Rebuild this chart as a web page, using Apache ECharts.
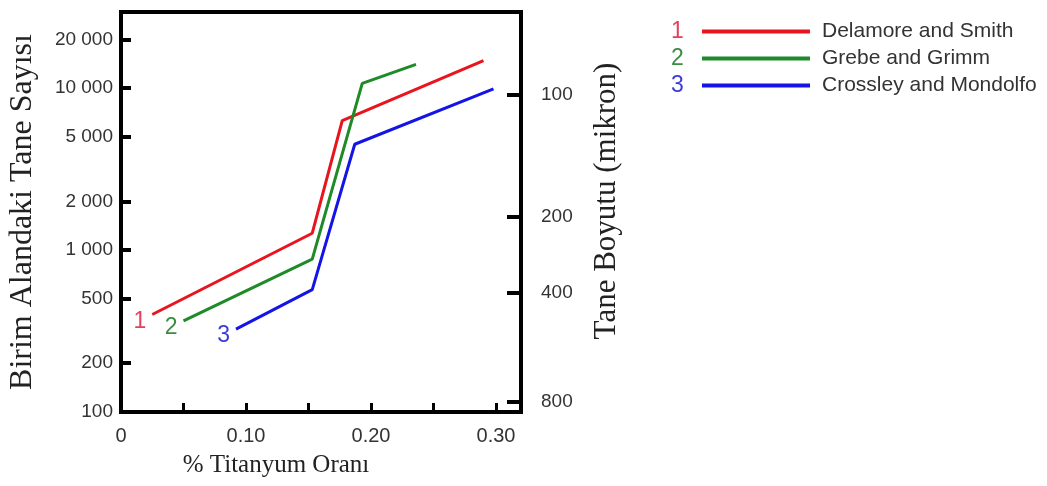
<!DOCTYPE html>
<html>
<head>
<meta charset="utf-8">
<script src="https://cdn.jsdelivr.net/npm/echarts@6/dist/echarts.min.js"></script>
<style>
html, body { margin: 0; padding: 0; background: #fff; }
#chart { width: 1047px; height: 486px; }
</style>
</head>
<body>
<div id="chart"></div>
<script>
// values: % Ti against particle count per unit area
const seriesNames = ['Delamore and Smith', 'Grebe and Grimm', 'Crossley and Mondolfo']
const seriesNumbers = ['1', '2', '3']
const seriesColors = ['#e8141e', '#1e8a28', '#1414e6']
const numberColors = ['#e4405c', '#3c8c40', '#3c3cd2']

const delamoreTi = [0.025, 0.153, 0.177, 0.290]
const delamoreCount = [400, 1270, 6300, 14800]
const grebeTi = [0.050, 0.153, 0.193, 0.236]
const grebeCount = [365, 880, 10700, 14000]
const crossleyTi = [0.092, 0.153, 0.187, 0.298]
const crossleyCount = [325, 570, 4500, 9900]

const xLabelValues = [0, 0.1, 0.2, 0.3]
const xTickValues = [0.05, 0.10, 0.15, 0.20, 0.25, 0.30]
const countTicks = [100, 200, 500, 1000, 2000, 5000, 10000, 20000]
// grain size (micron) labels on the right and the count they sit at
const sizeTicks = [100, 200, 400, 800]
const sizeTickCounts = [9060, 1600, 543, 115]

const countMin = 100
const countMax = 29500

const lg = Math.log10
const sansFont = '"Liberation Sans", Arial, sans-serif'
const serifFont = '"Liberation Serif", "Times New Roman", serif'

const fmtCount = (v) => String(Math.round(Math.pow(10, v))).replace(/\B(?=(\d{3})+(?!\d))/g, ' ')

const makeSeries = (i, xs, ys) => ({
  name: seriesNames[i],
  type: 'line',
  yAxisIndex: 0,
  symbol: 'circle',
  symbolSize: 0,
  showSymbol: true,
  lineStyle: { color: seriesColors[i], width: 3 },
  itemStyle: { color: seriesColors[i] },
  data: xs.map((x, k) => {
    const item = { value: [x, lg(ys[k])] }
    if (k === 0) {
      item.label = {
        show: true,
        formatter: seriesNumbers[i],
        position: 'left',
        distance: 6,
        offset: [0, 7],
        color: numberColors[i],
        fontFamily: sansFont,
        fontSize: 23
      }
    }
    return item
  })
})

const chart = echarts.init(document.getElementById('chart'))

chart.setOption({
  animation: false,
  backgroundColor: '#fff',
  grid: {
    left: 121, top: 12, width: 400, height: 400,
    show: true, borderColor: '#000', borderWidth: 4
  },
  legend: {
    orient: 'vertical',
    left: 697,
    top: 16,
    itemWidth: 108,
    itemHeight: 4,
    itemGap: 6,
    icon: 'rect',
    textStyle: {
      fontFamily: sansFont, fontSize: 21, color: '#333',
      lineHeight: 21, padding: [0, 0, 0, 7]
    },
    data: seriesNames
  },
  graphic: seriesNumbers.map((n, i) => ({
    type: 'text',
    left: 671,
    top: 20 + i * 27,
    style: { text: n, fill: numberColors[i], font: '23px ' + sansFont }
  })),
  xAxis: {
    type: 'value',
    min: 0,
    max: 0.32,
    name: '% Titanyum Oranı',
    nameLocation: 'middle',
    nameGap: 41,
    nameTextStyle: { fontFamily: serifFont, fontSize: 25, color: '#222', padding: [0, 90, 0, 0] },
    axisLine: { show: false },
    splitLine: { show: false },
    axisTick: { inside: true, length: 9, customValues: xTickValues, lineStyle: { color: '#000', width: 3 } },
    axisLabel: {
      customValues: xLabelValues,
      margin: 14,
      fontFamily: sansFont, fontSize: 20, color: '#333',
      formatter: (v) => (v === 0 ? '0' : v.toFixed(2))
    }
  },
  yAxis: [
    {
      type: 'value',
      position: 'left',
      min: lg(countMin),
      max: lg(countMax),
      name: 'Birim Alandaki Tane Sayısı',
      nameLocation: 'middle',
      nameRotate: 90,
      nameGap: 82,
      nameTextStyle: { fontFamily: serifFont, fontSize: 32, color: '#222' },
      axisLine: { show: false },
      splitLine: { show: false },
      axisTick: { inside: true, length: 10, customValues: countTicks.map(lg), lineStyle: { color: '#000', width: 4 } },
      axisLabel: {
        customValues: countTicks.map(lg),
        margin: 8,
        fontFamily: sansFont, fontSize: 19, color: '#333',
        formatter: fmtCount
      }
    },
    {
      type: 'value',
      position: 'right',
      min: lg(countMin),
      max: lg(countMax),
      name: 'Tane Boyutu (mikron)',
      nameLocation: 'middle',
      nameRotate: 90,
      nameGap: 70,
      nameTextStyle: { fontFamily: serifFont, fontSize: 31, color: '#222', padding: [0, 0, 0, 22] },
      axisLine: { show: false },
      splitLine: { show: false },
      axisTick: { inside: true, length: 14, customValues: sizeTickCounts.map(lg), lineStyle: { color: '#000', width: 4 } },
      axisLabel: {
        customValues: sizeTickCounts.map(lg),
        margin: 20,
        fontFamily: sansFont, fontSize: 19, color: '#333',
        formatter: (v) => {
          const i = sizeTickCounts.findIndex(c => Math.abs(lg(c) - v) < 1e-6)
          return i >= 0 ? String(sizeTicks[i]) : ''
        }
      }
    }
  ],
  series: [
    makeSeries(0, delamoreTi, delamoreCount),
    makeSeries(1, grebeTi, grebeCount),
    makeSeries(2, crossleyTi, crossleyCount)
  ]
})

window.addEventListener('resize', () => chart.resize())
</script>
</body>
</html>
